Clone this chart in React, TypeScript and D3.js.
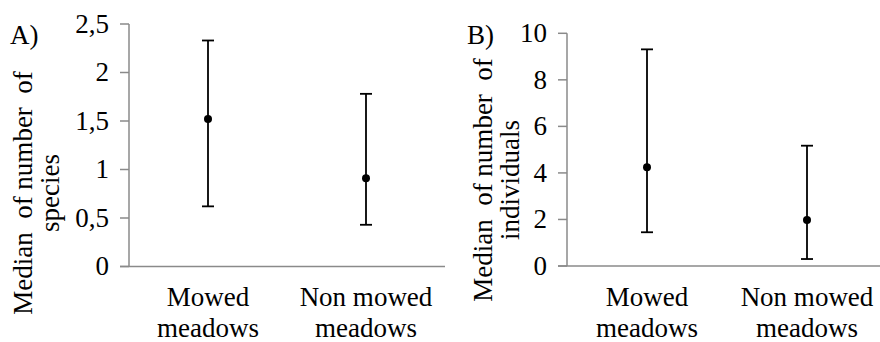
import React from "react";
import * as d3 from "d3";

// Categories shared by both panels
const categories = ["Mowed meadows", "Non mowed meadows"];
const categoryLines = [["Mowed", "meadows"], ["Non mowed", "meadows"]];

// Panel A: median number of species with range
const speciesMedian = [1.52, 0.91];
const speciesLow = [0.62, 0.43];
const speciesHigh = [2.33, 1.78];
const speciesTicks = [0, 0.5, 1, 1.5, 2, 2.5];

// Panel B: median number of individuals with range
const individualsMedian = [4.24, 1.98];
const individualsLow = [1.45, 0.3];
const individualsHigh = [9.31, 5.17];
const individualsTicks = [0, 2, 4, 6, 8, 10];

const FS = 27;
const AXIS = "#8a8a8a";

function T(props: any) {
  const { children, ...rest } = props;
  return (
    <text fontSize={FS} fill="#000" style={{ fontFamily: "Liberation Serif" }} {...rest}>
      {children}
    </text>
  );
}

type PanelProps = {
  letter: string;
  axisX: number;
  step: number;
  yTop: number;
  yBottom: number;
  domainMax: number;
  ticks: number[];
  fmt: (v: number) => string;
  median: number[];
  low: number[];
  high: number[];
  labelLines: string[];
  labelX: number;
  labelY: number;
  letterX: number;
};

function Panel(p: PanelProps) {
  const y = d3.scaleLinear().domain([0, p.domainMax]).range([p.yBottom, p.yTop]);
  const x = d3
    .scaleBand<string>()
    .domain(categories)
    .range([p.axisX, p.axisX + p.step * categories.length]);
  const cx = (c: string) => (x(c) as number) + x.bandwidth() / 2;
  const cap = 6;
  return (
    <g>
      <T x={p.letterX} y={44}>{p.letter}</T>
      {/* y axis */}
      <line x1={p.axisX} x2={p.axisX} y1={y(p.domainMax)} y2={y(0)} stroke={AXIS} strokeWidth={1.5} />
      {p.ticks.map((t) => (
        <g key={t}>
          <line x1={p.axisX - 9} x2={p.axisX} y1={y(t)} y2={y(t)} stroke={AXIS} strokeWidth={1.5} />
          <T x={p.axisX - 20} y={y(t)} dy="0.33em" textAnchor="end">
            {p.fmt(t)}
          </T>
        </g>
      ))}
      {/* x axis */}
      <line x1={p.axisX - 9} x2={p.axisX + p.step * 2} y1={y(0)} y2={y(0)} stroke={AXIS} strokeWidth={1.5} />
      {categories.map((c, i) => (
        <T key={c} textAnchor="middle">
          {categoryLines[i].map((ln, j) => (
            <tspan key={j} x={cx(c)} y={306 + j * 31}>
              {ln}
            </tspan>
          ))}
        </T>
      ))}
      {/* error bars with medians */}
      {categories.map((c, i) => (
        <g key={c} stroke="#000" strokeWidth={1.8}>
          <line x1={cx(c)} x2={cx(c)} y1={y(p.high[i])} y2={y(p.low[i])} />
          <line x1={cx(c) - cap} x2={cx(c) + cap} y1={y(p.high[i])} y2={y(p.high[i])} />
          <line x1={cx(c) - cap} x2={cx(c) + cap} y1={y(p.low[i])} y2={y(p.low[i])} />
          <circle cx={cx(c)} cy={y(p.median[i])} r={4} fill="#000" stroke="none" />
        </g>
      ))}
      {/* y label */}
      <T transform={`translate(${p.labelX},${p.labelY}) rotate(-90)`} textAnchor="middle">
        {p.labelLines.map((ln, j) => (
          <tspan key={j} x={0} y={j * 27}>
            {ln}
          </tspan>
        ))}
      </T>
    </g>
  );
}

const fmtComma = (v: number) => String(v).replace(".", ",");
const NB = "\u00a0";

export default function App() {
  return (
    <svg width={880} height={342} style={{ position: "absolute", left: 0, top: 0, background: "#fff" }}>
      <rect width={880} height={342} fill="#fff" />
      <Panel
        letter="A)"
        axisX={129}
        step={158}
        yTop={24}
        yBottom={266.5}
        domainMax={2.5}
        ticks={speciesTicks}
        fmt={fmtComma}
        median={speciesMedian}
        low={speciesLow}
        high={speciesHigh}
        labelLines={[`Median${NB} of number${NB} of`, "species"]}
        labelX={32}
        labelY={193}
        letterX={10}
      />
      <Panel
        letter="B)"
        axisX={567}
        step={160}
        yTop={33.3}
        yBottom={266}
        domainMax={10}
        ticks={individualsTicks}
        fmt={(v) => String(v)}
        median={individualsMedian}
        low={individualsLow}
        high={individualsHigh}
        labelLines={[`Median${NB} of number${NB} of`, "individuals"]}
        labelX={492}
        labelY={180}
        letterX={467}
      />
    </svg>
  );
}
